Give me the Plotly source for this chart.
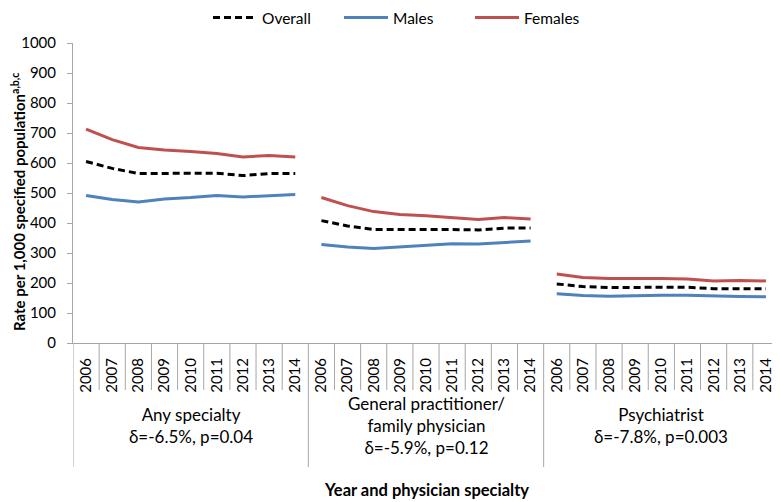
import plotly.graph_objects as go

years = ["2006", "2007", "2008", "2009", "2010", "2011", "2012", "2013", "2014"]
groups = ["Any specialty<br>δ=-6.5%, p=0.04",
          "General practitioner/<br>family physician<br>δ=-5.9%, p=0.12",
          "Psychiatrist<br>δ=-7.8%, p=0.003"]

overall_any = [605, 582, 565, 565, 565, 566, 558, 565, 565]
overall_gp = [408, 390, 378, 377, 378, 378, 377, 383, 383]
overall_psy = [197, 188, 185, 186, 186, 186, 181, 181, 181]

males_any = [492, 478, 470, 480, 485, 492, 487, 490, 495]
males_gp = [328, 320, 315, 320, 324, 331, 330, 336, 340]
males_psy = [164, 158, 156, 158, 159, 159, 156, 155, 154]

females_any = [713, 678, 652, 643, 638, 632, 620, 625, 620]
females_gp = [485, 458, 438, 428, 424, 418, 412, 418, 413]
females_psy = [230, 218, 215, 216, 215, 213, 207, 208, 207]

series = [
    ("Overall", [overall_any, overall_gp, overall_psy], "#000000", "7px,4px"),
    ("Males", [males_any, males_gp, males_psy], "#4F81BD", "solid"),
    ("Females", [females_any, females_gp, females_psy], "#C0504D", "solid"),
]

n = len(years)
FONT = "Lato"

fig = go.Figure()
for name, grp_vals, color, dash in series:
    xs, ys = [], []
    for gi, vals in enumerate(grp_vals):
        if gi > 0:
            xs.append(None)
            ys.append(None)
        xs += [gi * n + i for i in range(n)]
        ys += vals
    fig.add_trace(go.Scatter(x=xs, y=ys, mode="lines", name=name,
                             connectgaps=False,
                             line=dict(color=color, width=3, dash=dash)))

total = n * len(groups)
tickvals = list(range(total))
ticktext = years * len(groups)

# page has an 8px body margin; plot area on page: x 73..779, y 43..343
OFF = 8
plot_h = 300.0
plot_w = 706.0
year_box_bottom = -(390 - 343) / plot_h
group_box_bottom = -(467 - 343) / plot_h

shapes = []
for k in range(1, total):
    if k % n == 0:
        continue
    shapes.append(dict(type="line", xref="x", yref="paper", x0=k - 0.5, x1=k - 0.5,
                       y0=0, y1=year_box_bottom, line=dict(color="#A6A6A6", width=1)))
for g in range(len(groups) + 1):
    x = g * n - 0.5
    shapes.append(dict(type="line", xref="x", yref="paper", x0=x, x1=x,
                       y0=0, y1=group_box_bottom, line=dict(color="#A6A6A6", width=1)))

annotations = []
for gi, g in enumerate(groups):
    annotations.append(dict(x=gi * n + (n - 1) / 2, y=-(425 - 343) / plot_h, xref="x", yref="paper",
                            text=g, showarrow=False, yanchor="middle", xanchor="center",
                            font=dict(family=FONT, size=17, color="#000000")))
annotations.append(dict(x=(426 - 73) / plot_w, y=-(490 - 343) / plot_h, xref="paper", yref="paper",
                        text="<b>Year and physician specialty</b>", showarrow=False,
                        xanchor="center", yanchor="middle",
                        font=dict(family=FONT, size=16.5, color="#000000")))
annotations.append(dict(x=-(73 - 18) / plot_w, y=(343 - 202) / plot_h, xref="paper", yref="paper",
                        text="<b>Rate per 1,000 specified population<sup>a,b,c</sup></b>",
                        showarrow=False, textangle=-90, xanchor="center", yanchor="middle",
                        font=dict(family=FONT, size=15, color="#000000")))

W, H = 780 - OFF, 502 - OFF
fig.update_layout(
    width=W, height=H,
    margin=dict(l=73 - OFF, r=W - (779 - OFF), t=43 - OFF, b=H - (343 - OFF), autoexpand=False),
    paper_bgcolor="white", plot_bgcolor="white",
    font=dict(family=FONT, size=15, color="#000000"),
    showlegend=True,
    legend=dict(orientation="h", x=(208 - 73) / plot_w, xanchor="left",
                y=1 + (43 - 18) / plot_h, yref="paper", yanchor="middle",
                font=dict(family=FONT, size=15.5), itemwidth=44,
                entrywidth=72, entrywidthmode="pixels",
                bgcolor="rgba(0,0,0,0)"),
    shapes=shapes,
    annotations=annotations,
    xaxis=dict(range=[-0.5, total - 0.5], tickmode="array", tickvals=tickvals,
               ticktext=ticktext, tickangle=-90, showgrid=False, zeroline=False,
               showline=True, linecolor="#A6A6A6", linewidth=1, ticks="",
               ticklabelstandoff=8, tickfont=dict(family=FONT, size=15),
               automargin=False),
    yaxis=dict(range=[0, 1000], dtick=100, showgrid=False, zeroline=False,
               showline=True, linecolor="#A6A6A6", linewidth=1, ticks="outside",
               ticklen=5, tickcolor="#A6A6A6", ticklabelstandoff=8,
               tickfont=dict(family=FONT, size=15), automargin=False),
)

fig.write_html("out.html")
